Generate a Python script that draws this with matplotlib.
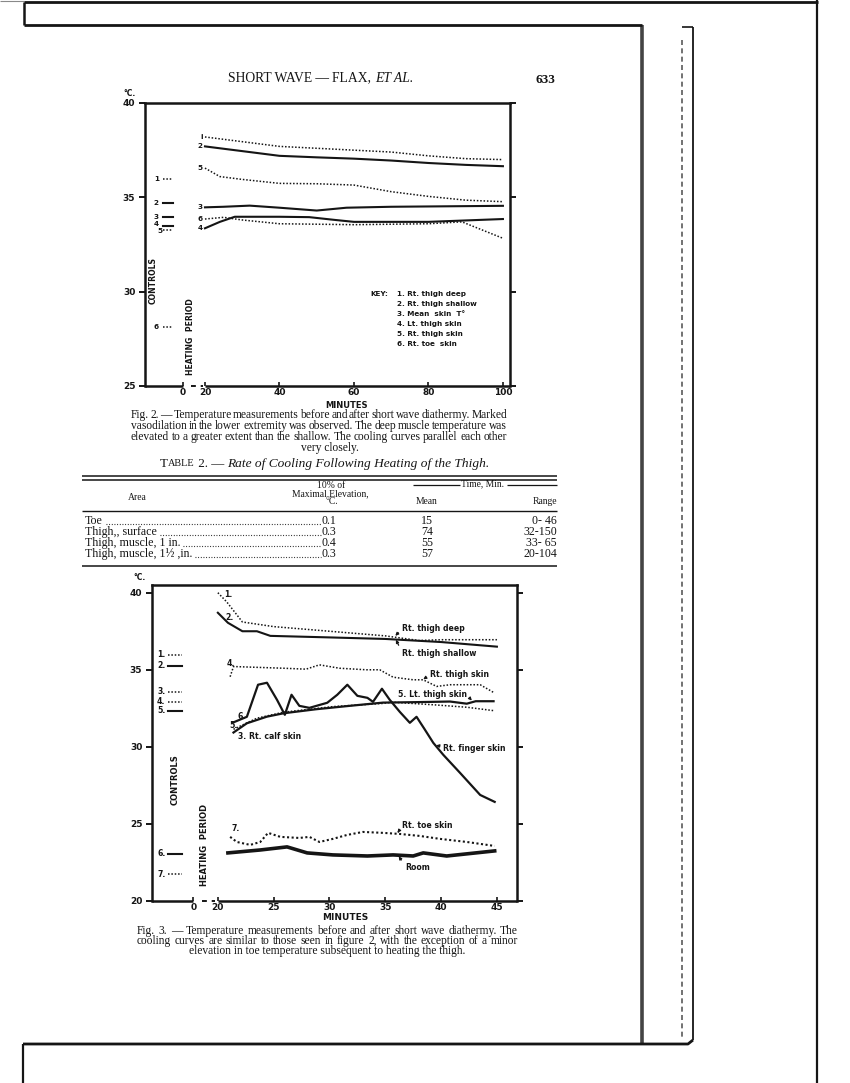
"""
Scanned page 633 (SHORT WAVE - FLAX, ET AL.): Fig. 2, Table 2, Fig. 3.
Output: out.png (850x1083)
"""
import matplotlib
matplotlib.use('Agg')
import matplotlib.pyplot as plt

W, H = 850, 1083
SERIF = 'Liberation Serif'
SANS = 'DejaVu Sans'
INK = '#151515'

# ---------------- Fig. 2 (minutes 20-100) ----------------
f2_deep_min = [20, 30, 40, 50, 60, 70, 80, 90, 100]
f2_deep = [38.2, 37.95, 37.7, 37.6, 37.5, 37.4, 37.2, 37.05, 37.0]
f2_shallow_min = [20, 30, 40, 50, 60, 70, 80, 90, 100]
f2_shallow = [37.7, 37.45, 37.2, 37.12, 37.05, 36.95, 36.82, 36.72, 36.65]
f2_rskin_min = [20, 24, 30, 40, 50, 60, 70, 80, 90, 100]
f2_rskin = [36.55, 36.1, 35.95, 35.74, 35.72, 35.65, 35.3, 35.05, 34.85, 34.77]
f2_mean_min = [20, 25, 32, 40, 50, 58, 70, 100]
f2_mean = [34.47, 34.5, 34.56, 34.45, 34.3, 34.45, 34.5, 34.55]
f2_toe_min = [20, 25, 30, 40, 60, 80, 89, 100]
f2_toe = [33.85, 33.94, 33.8, 33.6, 33.55, 33.6, 33.7, 32.83]
f2_lskin_min = [20, 24, 28, 40, 48, 55, 60, 80, 100]
f2_lskin = [33.36, 33.7, 33.97, 33.97, 33.95, 33.8, 33.7, 33.7, 33.85]

f2_ctrl_labels = ['1', '2', '3', '4', '5', '6']
f2_ctrl_values = [35.97, 34.7, 33.96, 33.48, 33.27, 28.13]
f2_ctrl_dotted = [True, False, False, False, True, True]

f2_key = ['1. Rt. thigh deep', '2. Rt. thigh shallow', '3. Mean  skin  T°',
          '4. Lt. thigh skin', '5. Rt. thigh skin', '6. Rt. toe  skin']
f2_xticks = [20, 40, 60, 80, 100]
f2_yticks = [25, 30, 35, 40]

# ---------------- Fig. 3 (minutes 20-45) ----------------
f3_deep_min = [20, 20.8, 22.2, 25, 30, 35, 38, 40, 45]
f3_deep = [40.0, 39.4, 38.1, 37.8, 37.5, 37.2, 36.9, 36.95, 36.95]
f3_shallow_min = [20, 20.9, 22.2, 23.5, 24.7, 30, 35, 40, 45]
f3_shallow = [38.7, 38.05, 37.5, 37.5, 37.2, 37.1, 37.0, 36.8, 36.5]
f3_rskin_min = [21.1, 21.4, 25.9, 27.9, 29.1, 30.9, 33.3, 34.5, 35.7, 37.5,
                38.4, 39.6, 40.8, 43.5, 44.7]
f3_rskin = [34.55, 35.21, 35.1, 35.04, 35.32, 35.1, 35.0, 35.0, 34.52, 34.35,
            34.35, 33.92, 34.03, 34.03, 33.53]
f3_lskin_min = [21.4, 22.6, 24.4, 25.9, 28.8, 31.8, 34.8, 37.7, 40.8, 42.3, 43.1, 44.7]
f3_lskin = [30.93, 31.53, 31.96, 32.18, 32.44, 32.66, 32.87, 32.9, 32.94, 32.8, 32.96, 32.96]
f3_calf_min = [21.4, 23.5, 25.9, 30.3, 34.8, 35.6, 39.3, 42.3, 44.7]
f3_calf = [31.14, 31.86, 32.25, 32.61, 32.82, 32.9, 32.73, 32.57, 32.35]
f3_finger_min = [21.3, 22.6, 23.6, 24.4, 25.3, 26.0, 26.6, 27.3, 28.2, 29.8, 30.7,
                 31.6, 32.5, 33.4, 33.9, 34.7, 35.4, 36.3, 37.2, 37.8, 38.5, 39.3,
                 40.2, 41.7, 43.5, 44.8]
f3_finger = [31.56, 31.95, 34.03, 34.16, 33.05, 32.08, 33.38, 32.66, 32.53, 32.86,
             33.38, 34.03, 33.31, 33.18, 32.92, 33.77, 33.05, 32.27, 31.56, 31.95,
             31.17, 30.26, 29.48, 28.31, 26.88, 26.43]
f3_toe_min = [21.1, 21.7, 22.9, 23.8, 24.5, 25.6, 27.3, 28.2, 29.1, 30.3, 31.6,
              33.0, 34.8, 36.3, 38.1, 39.9, 42.3, 44.8]
f3_toe = [24.16, 23.83, 23.64, 23.83, 24.42, 24.16, 24.09, 24.16, 23.83, 24.03,
          24.29, 24.48, 24.42, 24.35, 24.22, 24.03, 23.83, 23.57]
f3_room_min = [20.9, 23.8, 26.2, 28.0, 30.3, 33.4, 35.7, 37.5, 38.4, 40.5, 44.8]
f3_room = [23.12, 23.31, 23.51, 23.12, 22.99, 22.92, 22.99, 22.92, 23.12, 22.92, 23.25]

f3_ctrl_labels = ['1.', '2.', '3.', '4.', '5.', '6.', '7.']
f3_ctrl_values = [35.97, 35.26, 33.57, 32.92, 32.34, 23.05, 21.75]
f3_ctrl_dotted = [True, False, True, True, False, False, True]
f3_xticks = [20, 25, 30, 35, 40, 45]
f3_yticks = [20, 25, 30, 35, 40]

# ---------------- Table 2 ----------------
tab_area = ['Toe', 'Thigh,, surface', 'Thigh, muscle, 1 in.', 'Thigh, muscle, 1½ ,in.']
tab_elev = ['0.1', '0.3', '0.4', '0.3']
tab_mean = ['15', '74', '55', '57']
tab_range = ['0- 46', '32-150', '33- 65', '20-104']

DOT = (0, (1.0, 1.2))

fig = plt.figure(figsize=(W / 100, H / 100), dpi=100)
fig.patch.set_facecolor('white')
r = fig.canvas.get_renderer()

# page layer in pixel coordinates
bg = fig.add_axes([0, 0, 1, 1])
bg.set_xlim(0, W)
bg.set_ylim(H, 0)
bg.axis('off')


def seg(xs, ys, lw=1.2, **kw):
    bg.plot(xs, ys, color=INK, lw=lw, solid_capstyle='butt', **kw)


# scan frame / page edges
seg([24, 818], [2, 2], lw=2)
seg([0, 24], [1, 1], lw=0.8, alpha=0.5)
seg([24, 24], [2, 25], lw=1.8)
seg([24, 642], [25, 25], lw=2)
seg([682, 693], [27, 27], lw=1.2)
seg([642, 642], [25, 1044], lw=2.6, alpha=0.8)
seg([682, 682], [40, 1040], lw=1.2, ls=(0, (3, 2)), alpha=0.7)
seg([693, 693], [27, 1040], lw=1.3)
seg([817, 817], [0, H], lw=1.6)
seg([23, 688, 693], [1044, 1044, 1040], lw=2)
seg([23, 23], [1044, H], lw=1.6)


def txt(x, y, s, **kw):
    kw.setdefault('color', INK)
    kw.setdefault('va', 'center')
    return bg.text(x, y, s, **kw)


def width(t):
    return t.get_window_extent(r).width


def justify(line, x0, x1, y, **kw):
    words = line.split()
    ts = [txt(0, y, w, **kw) for w in words]
    ws = [width(t) for t in ts]
    gap = (x1 - x0 - sum(ws)) / max(len(words) - 1, 1)
    x = x0
    for t, w in zip(ts, ws):
        t.set_x(x)
        x += w + gap


def chain(x, y, parts, **common):
    for s, kw in parts:
        t = txt(x, y, s, **common, **kw)
        x += width(t)
    return x


# running head
chain(228, 78, [('SHORT WAVE', {}), (' \u2014 ', {}), ('FLAX, ', {}),
                ('ET AL.', {'style': 'italic'})], family=SERIF, fontsize=9.8)
txt(545, 80, '633', family=SERIF, fontsize=9.5, weight='bold', ha='center')


def chart(rect_px, xlim, ylim, break0):
    x0, y0, x1, y1 = rect_px
    ax = fig.add_axes([x0 / W, 1 - y1 / H, (x1 - x0) / W, (y1 - y0) / H])
    ax.set_facecolor('none')
    ax.set_xlim(*xlim)
    ax.set_ylim(*ylim)
    for s in ['left', 'right', 'top']:
        ax.spines[s].set_linewidth(1.8)
        ax.spines[s].set_color(INK)
    ax.spines['bottom'].set_visible(False)
    tr = ax.get_xaxis_transform()
    ax.plot([xlim[0], break0], [0, 0], transform=tr, color=INK, lw=1.8,
            clip_on=False, solid_capstyle='butt')
    ax.plot([break0 + 0.35 * (20 - break0), 20 - 0.1 * (20 - break0)], [0, 0],
            transform=tr, color=INK, lw=1.4, ls=(0, (2.5, 2.5)), clip_on=False)
    ax.plot([20, xlim[1]], [0, 0], transform=tr, color=INK, lw=1.8,
            clip_on=False, solid_capstyle='butt')
    ax.tick_params(axis='x', direction='in', length=3, width=1.2, colors=INK,
                   labelsize=6.5, pad=1.5)
    ax.tick_params(axis='y', direction='out', length=4, width=1.4, colors=INK,
                   labelsize=6.5, right=True, pad=3)
    return ax


def bold_labels(ax):
    for lab in ax.get_xticklabels() + ax.get_yticklabels():
        lab.set_fontweight('bold')
        lab.set_family(SANS)


# ================= Fig. 2 =================
F2_XLIM = (3.9, 101.9)
F2_BREAK = 14.1
ax2 = chart((145, 103, 510, 386), F2_XLIM, (25, 40), F2_BREAK)
ax2.set_xticks([F2_BREAK] + f2_xticks)
ax2.set_xticklabels(['0'] + [str(v) for v in f2_xticks])
ax2.set_yticks(f2_yticks)
bold_labels(ax2)

solid = dict(color=INK, lw=1.5)
dotted = dict(color=INK, lw=1.1, ls=DOT)
ax2.plot(f2_deep_min, f2_deep, **dotted)
ax2.plot(f2_shallow_min, f2_shallow, **solid)
ax2.plot(f2_rskin_min, f2_rskin, **dotted)
ax2.plot(f2_mean_min, f2_mean, **solid)
ax2.plot(f2_toe_min, f2_toe, **dotted)
ax2.plot(f2_lskin_min, f2_lskin, **solid)

lab_kw = dict(fontsize=5.2, weight='bold', family=SANS, color=INK, va='center')
for s, yv in [('i', f2_deep[0]), ('2', f2_shallow[0]), ('5', f2_rskin[0]),
              ('3', f2_mean[0]), ('6', f2_toe[0]), ('4', f2_lskin[0])]:
    ax2.text(19.4, yv, s, ha='right', **lab_kw)

for lab, v, d in zip(f2_ctrl_labels, f2_ctrl_values, f2_ctrl_dotted):
    ax2.plot([8.7, 11.5], [v, v], **(dotted if d else solid))
    dy = 0.13 if lab == '4' else (-0.07 if lab == '5' else 0)
    xl = 7.6 if lab != '5' else 8.6
    ax2.text(xl, v + dy, lab, ha='right', **lab_kw)

txt(370, 294, 'KEY:', fontsize=5.2, weight='bold', family=SANS)
for i, k in enumerate(f2_key):
    txt(397, 294 + 10 * i, k, fontsize=5.2, weight='bold', family=SANS)

txt(153, 280, 'CONTROLS', rotation=90, ha='center', fontsize=5.6,
    weight='bold', family=SANS)
txt(191, 337, 'HEATING  PERIOD', rotation=90, ha='center', fontsize=5.6,
    weight='bold', family=SANS)
txt(130, 93, '°C.', ha='center', fontsize=5.5, weight='bold', family=SANS)
txt(347, 406, 'MINUTES', ha='center', fontsize=6, weight='bold', family=SANS)

cap_kw = dict(family=SERIF, fontsize=8.3)
justify('Fig. 2. \u2014 Temperature measurements before and after short wave '
        'diathermy. Marked', 131, 507, 415, **cap_kw)
justify('vasodilation in the lower extremity was observed.  The deep muscle '
        'temperature was', 131, 507, 426, **cap_kw)
justify('elevated to a greater extent than the shallow.  The cooling curves '
        'parallel each other', 131, 507, 437, **cap_kw)
txt(330, 448, 'very closely.', ha='center', **cap_kw)

# ================= Table 2 =================
chain(160, 464, [('T', {'fontsize': 9.4}), ('ABLE', {'fontsize': 7.4}),
                 (' 2. \u2014 ', {'fontsize': 9.4}),
                 ('Rate of Cooling Following Heating of the Thigh.',
                  {'fontsize': 9.6, 'style': 'italic'})], family=SERIF)
seg([82, 557], [476, 476], lw=1.1)
seg([82, 557], [479.5, 479.5], lw=1.1)
hk = dict(family=SERIF, fontsize=6.9, ha='center')
txt(137, 497, 'Area', **hk)
txt(331, 486, '10% of', **hk)
txt(330, 494, 'Maximal Elevation,', **hk)
txt(332, 502, '°C.', **hk)
txt(483, 484, 'Time, Min.', **hk)
seg([413, 460], [485, 485], lw=0.9)
seg([507, 557], [485, 485], lw=0.9)
txt(427, 502, 'Mean', **hk)
txt(557, 502, 'Range', family=SERIF, fontsize=6.9, ha='right')
seg([82, 557], [511, 511], lw=1.0)

rk = dict(family=SERIF, fontsize=8.6)
for i, (a, e, m, rg) in enumerate(zip(tab_area, tab_elev, tab_mean, tab_range)):
    y = 521 + 11 * i
    t = txt(85, y, a, **rk)
    x_end = 85 + width(t)
    bg.plot([x_end + 3, 321], [y + 2.5, y + 2.5], color=INK, lw=0.8,
            ls=(0, (0.8, 1.6)))
    txt(322, y, e, **rk)
    txt(427, y, m, ha='center', **rk)
    txt(557, y, rg, ha='right', **rk)
seg([82, 557], [566, 566], lw=1.1)

# ================= Fig. 3 =================
F3_XLIM = (14.1, 46.8)
F3_BREAK = 17.8
ax3 = chart((152, 585, 517, 901), F3_XLIM, (20, 40.5), F3_BREAK)
ax3.set_xticks([F3_BREAK] + f3_xticks)
ax3.set_xticklabels(['0'] + [str(v) for v in f3_xticks])
ax3.set_yticks(f3_yticks)
bold_labels(ax3)

ax3.plot(f3_deep_min, f3_deep, **dotted)
ax3.plot(f3_shallow_min, f3_shallow, **solid)
ax3.plot(f3_rskin_min, f3_rskin, **dotted)
ax3.plot(f3_calf_min, f3_calf, **dotted)
ax3.plot(f3_lskin_min, f3_lskin, color=INK, lw=1.6)
ax3.plot(f3_finger_min, f3_finger, color=INK, lw=1.6)
ax3.plot(f3_toe_min, f3_toe, color=INK, lw=1.5, ls=DOT)
ax3.plot(f3_room_min, f3_room, color=INK, lw=2.6)

lab3 = dict(fontsize=5.6, weight='bold', family=SANS, color=INK, va='center')
for s, xv, yv in [('1.', 20.6, 39.9), ('2.', 20.7, 38.4), ('4.', 20.8, 35.4),
                  ('6.', 21.8, 32.0), ('5.', 21.0, 31.4),
                  ('3. Rt. calf skin', 21.8, 30.65), ('7.', 21.2, 24.7)]:
    ax3.text(xv, yv, s, ha='left', **lab3)

arrow = dict(arrowstyle='-|>,head_length=0.3,head_width=0.15', color=INK,
             lw=0.9, shrinkA=1, shrinkB=0)
for s, tip, pos, rel in [('Rt. thigh deep', (35.9, 37.2), (36.5, 37.66), (0, 0.5)),
                         ('Rt. thigh shallow', (35.95, 36.95), (36.5, 36.04), (0, 0.7)),
                         ('Rt. thigh skin', (38.4, 34.38), (39.0, 34.67), (0, 0.5)),
                         ('5. Lt. thigh skin', (42.75, 33.0), (36.1, 33.4), (1, 0.5)),
                         ('Rt. finger skin', (39.55, 30.1), (40.2, 29.9), (0, 0.7)),
                         ('Rt. toe skin', (36.1, 24.42), (36.5, 24.9), (0, 0.4)),
                         ('Room', (36.2, 22.9), (36.75, 22.2), (0, 0.7))]:
    ax3.annotate(s, xy=tip, xytext=pos, ha='left',
                 arrowprops=dict(relpos=rel, **arrow), **lab3)

for lab, v, d in zip(f3_ctrl_labels, f3_ctrl_values, f3_ctrl_dotted):
    ax3.plot([15.5, 16.8], [v, v], **(dotted if d else solid))
    ax3.text(15.3, v, lab, ha='right', **lab3)

txt(175, 780, 'CONTROLS', rotation=90, ha='center', fontsize=6,
    weight='bold', family=SANS)
txt(205, 845, 'HEATING  PERIOD', rotation=90, ha='center', fontsize=6,
    weight='bold', family=SANS)
txt(140, 577, '°C.', ha='center', fontsize=5.5, weight='bold', family=SANS)
txt(345, 918, 'MINUTES', ha='center', fontsize=6.5, weight='bold', family=SANS)

justify('Fig. 3. \u2014 Temperature measurements before and after short wave '
        'diathermy.  The', 137, 518, 931, **cap_kw)
justify('cooling curves are similar to those seen in figure 2, with the '
        'exception of a minor', 137, 518, 941, **cap_kw)
txt(327, 951, 'elevation in toe temperature subsequent to heating the thigh.',
    ha='center', **cap_kw)

fig.savefig('out.png', dpi=100)
plt.close(fig)
print('saved out.png')
